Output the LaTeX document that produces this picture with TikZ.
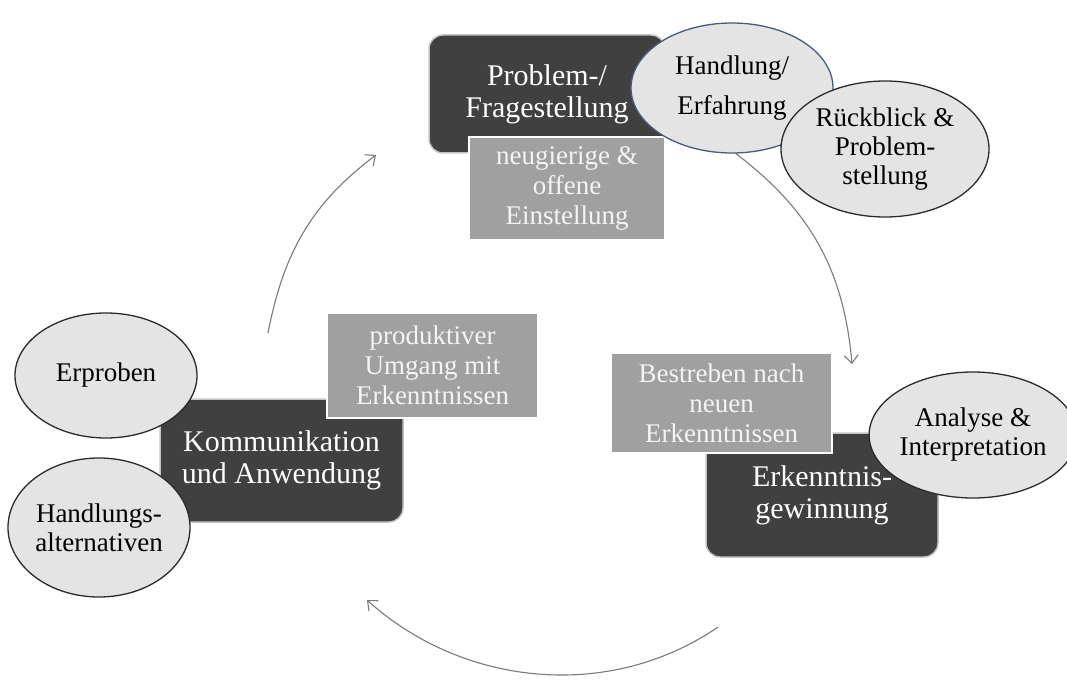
\documentclass[tikz,border=0pt]{standalone}
\usepackage{fontspec}
\setmainfont{Liberation Serif}
\usetikzlibrary{arrows.meta,shapes.geometric}
\definecolor{darkfill}{HTML}{404040}
\definecolor{darkrim}{HTML}{C4C4C4}
\definecolor{midfill}{HTML}{A0A0A0}
\definecolor{midrim}{HTML}{C8C8C8}
\definecolor{midtext}{HTML}{F4F4F4}
\definecolor{ovalfill}{HTML}{E4E4E4}
\definecolor{ovalrim}{HTML}{2B2B2B}
\definecolor{bluerim}{HTML}{4A5B78}
\definecolor{arcgray}{HTML}{7A7A7A}

\begin{document}
\begin{tikzpicture}[x=1pt,y=-1pt,
  phase/.style={rectangle, rounded corners=14pt, fill=darkfill, draw=darkrim,
    line width=1.5pt, text=white, font=\fontsize{30}{32}\selectfont,
    align=center, inner sep=0pt},
  attitude/.style={rectangle, fill=midfill, draw=midrim, double=white,
    double distance=1.4pt, line width=0.6pt, text=midtext,
    font=\fontsize{27}{30}\selectfont, align=center, inner sep=0pt},
  oval/.style={ellipse, fill=ovalfill, draw=ovalrim, line width=1.3pt,
    text=black, font=\fontsize{27}{29}\selectfont, align=center, inner sep=0pt},
  cyclearrow/.style={draw=arcgray, line width=1.1pt,
    -{Straight Barb[length=8pt,width=14pt]}}
]
\useasboundingbox (0,0) rectangle (1067,684);

% --- top: problem / question ---
\node[phase, minimum width=236pt, minimum height=118pt] (prob) at (547,94)
  {Problem-/\\Fragestellung};
\node[attitude, minimum width=196pt, minimum height=103pt] (open) at (567,188.5)
  {neugierige \&\\offene\\Einstellung};
\node[oval, draw=bluerim, minimum width=202pt, minimum height=130pt,
  font=\fontsize{27}{40}\selectfont] (act) at (732,88)
  {Handlung/\\Erfahrung};
\node[oval, minimum width=208pt, minimum height=136pt] (review) at (885,149)
  {Rückblick \&\\Problem-\\stellung};

% --- right: gaining insight ---
\node[phase, minimum width=232pt, minimum height=124pt] (gain) at (822,495)
  {Erkenntnis-\\gewinnung};
\node[attitude, minimum width=221pt, minimum height=100pt] (strive) at (721.5,403)
  {Bestreben nach\\neuen\\Erkenntnissen};
\node[oval, minimum width=190pt, minimum height=126pt] (analyse) at (973,435)
  {Analyse \&\\Interpretation};

% --- left: communication and application ---
\node[phase, minimum width=243pt, minimum height=123pt] (comm) at (281.5,460.5)
  {Kommunikation\\und Anwendung};
\node[attitude, minimum width=211pt, minimum height=105pt] (prod) at (432.5,365.5)
  {produktiver\\Umgang mit\\Erkenntnissen};
\node[oval, minimum width=182pt, minimum height=125pt] (try) at (106,375.5)
  {Erproben};
\node[oval, minimum width=182pt, minimum height=139pt] (alt) at (99,527.5)
  {Handlungs-\\alternativen};

% --- cycle arrows ---
\coordinate (c1s) at (268,333);
\coordinate (c1e) at (376,155);
\coordinate (c2s) at (735,153);
\coordinate (c2e) at (852,364);
\coordinate (c3s) at (718,627);
\coordinate (c3e) at (367,600);
\draw[cyclearrow] (c1s) to[out=79,in=217] (c1e);
\draw[cyclearrow] (c2s) to[out=-37,in=95] (c2e);
\draw[cyclearrow] (c3s) to[out=214.5,in=318,looseness=0.95] (c3e);
\end{tikzpicture}
\end{document}
